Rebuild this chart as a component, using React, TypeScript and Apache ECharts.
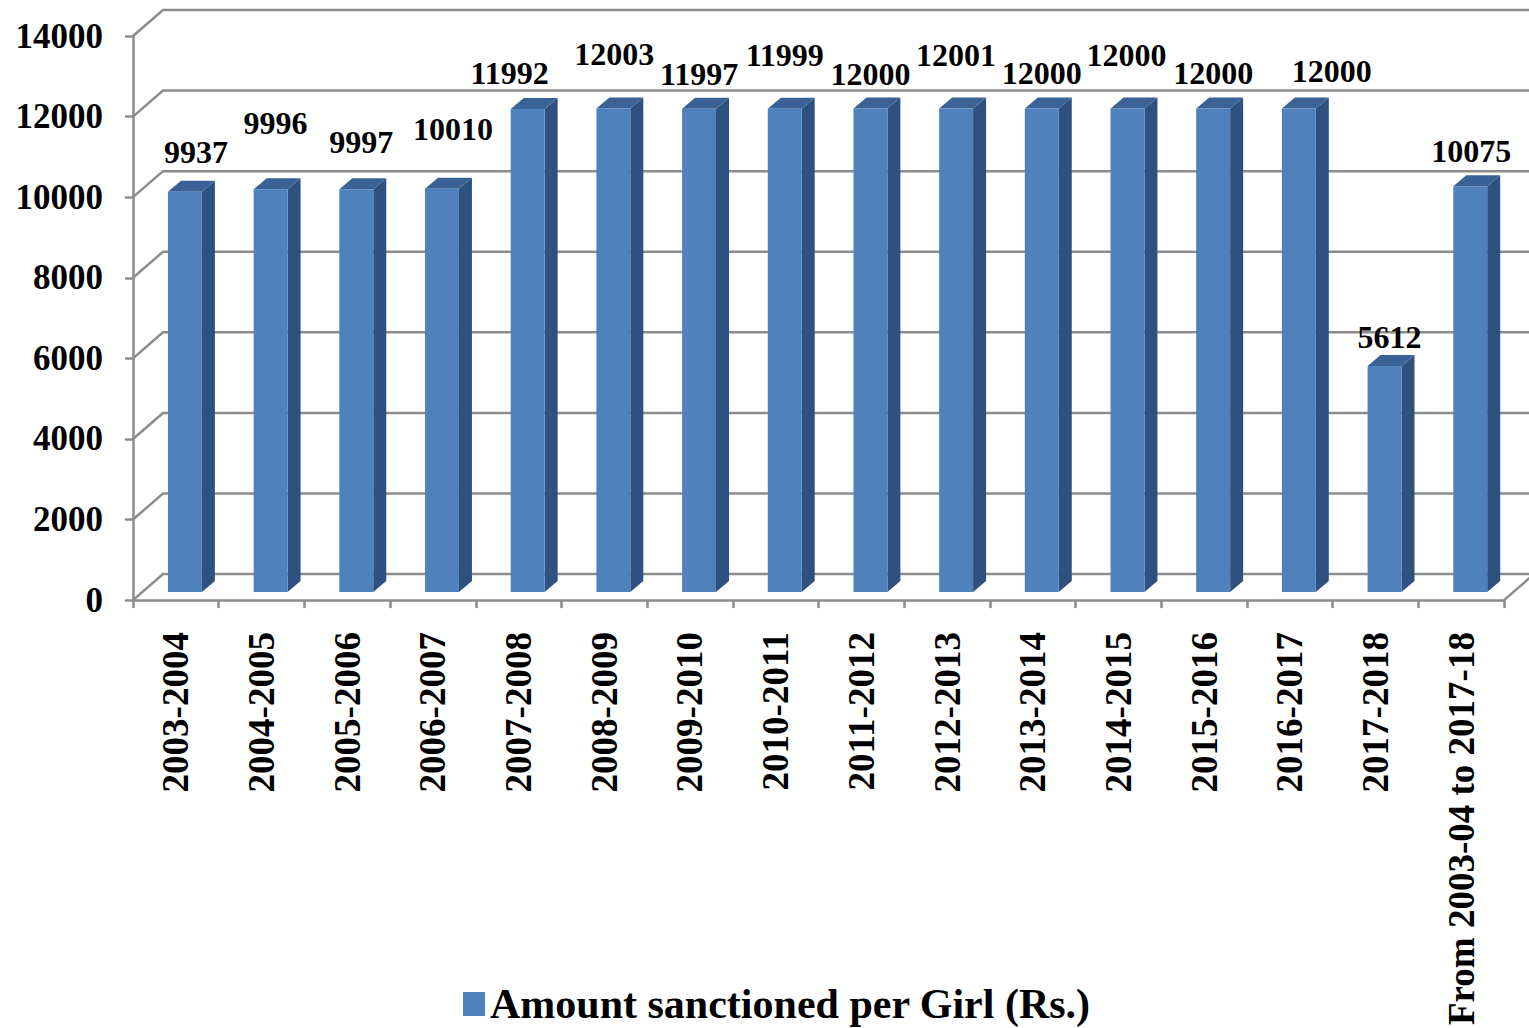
import React, { useEffect, useRef } from "react";
import * as echarts from "echarts";

const categories = [
  "2003-2004", "2004-2005", "2005-2006", "2006-2007", "2007-2008", "2008-2009",
  "2009-2010", "2010-2011", "2011-2012", "2012-2013", "2013-2014", "2014-2015",
  "2015-2016", "2016-2017", "2017-2018", "From 2003-04 to 2017-18",
];
const amounts = [
  9937, 9996, 9997, 10010, 11992, 12003, 11997, 11999, 12000, 12001, 12000, 12000,
  12000, 12000, 5612, 10075,
];
const yTicks = [0, 2000, 4000, 6000, 8000, 10000, 12000, 14000];
const seriesName = "Amount sanctioned per Girl (Rs.)";

// label nudges in px (styling only, relative to each bar's front-top centre)
const labelDx = [11, 5, 5, 11, -18, 1, 0, 0, 0, 0, 0, -1, 0, 33, 5, 1];
const labelDy = [-40, -66, -47, -60, -36, -54, -35, -54, -35, -54, -36, -54, -36, -38, -29, -35];

const FONT = '"Liberation Serif", "Times New Roman", serif';
const GRID_COLOR = "#8c8c8c";
const FRONT = "#4f81bd";
const SIDE = "#2f5180";
const TOP = "#3b6296";
const WALL_DX = 30;
const WALL_DY = -26;

export default function App() {
  const ref = useRef<HTMLDivElement>(null);
  useEffect(() => {
    if (!ref.current) return;
    const chart = echarts.init(ref.current, null, { renderer: "svg" });
    chart.setOption({
      animation: false,
      backgroundColor: "#ffffff",
      grid: { left: 133, right: 25, top: 36, bottom: 425, containLabel: false },
      legend: {
        data: [seriesName],
        left: 458,
        top: 978,
        itemWidth: 22,
        itemHeight: 24,
        icon: "rect",
        textStyle: { fontFamily: FONT, fontWeight: "bold", fontSize: 42, color: "#000" },
      },
      xAxis: {
        type: "category",
        data: categories,
        boundaryGap: true,
        axisLine: { show: true, lineStyle: { color: GRID_COLOR, width: 2.5 } },
        axisTick: { show: true, length: 8, lineStyle: { color: GRID_COLOR, width: 2.5 } },
        axisLabel: {
          rotate: 90,
          margin: 32,
          interval: 0,
          fontFamily: FONT,
          fontWeight: "bold",
          fontSize: 37,
          color: "#000",
        },
        splitLine: { show: false },
      },
      yAxis: {
        type: "value",
        min: 0,
        max: 14000,
        interval: 2000,
        axisLine: { show: true, lineStyle: { color: GRID_COLOR, width: 2.5 } },
        axisTick: { show: true, length: 8, lineStyle: { color: GRID_COLOR, width: 2.5 } },
        axisLabel: {
          margin: 30,
          fontFamily: FONT,
          fontWeight: "bold",
          fontSize: 35,
          color: "#000",
          formatter: (v: number) => String(v),
        },
        splitLine: { show: false },
      },
      series: [
        {
          type: "custom",
          name: "grid",
          silent: true,
          clip: false,
          z: 1,
          data: yTicks.map((v) => [0, v]),
          encode: { x: 0, y: 1 },
          renderItem: (params: any, api: any) => {
            const v = api.value(1);
            const cs = params.coordSys;
            const y = api.coord([0, v])[1];
            const W = api.getWidth();
            const children: any[] = [
              {
                type: "polyline",
                shape: {
                  points: [
                    [cs.x, y],
                    [cs.x + WALL_DX, y + WALL_DY],
                    [W + 10, y + WALL_DY],
                  ],
                },
                style: { stroke: GRID_COLOR, lineWidth: 2.5, fill: "none" },
              },
            ];
            if (v === 0) {
              children.push({
                type: "line",
                shape: {
                  x1: cs.x + cs.width,
                  y1: y,
                  x2: cs.x + cs.width + WALL_DX,
                  y2: y + WALL_DY,
                },
                style: { stroke: GRID_COLOR, lineWidth: 2.5 },
              });
            }
            return { type: "group", children };
          },
        },
        {
          type: "custom",
          name: seriesName,
          clip: false,
          z: 5,
          itemStyle: { color: FRONT },
          data: amounts.map((v, i) => [i, v]),
          encode: { x: 0, y: 1 },
          renderItem: (params: any, api: any) => {
            const i = api.value(0);
            const v = api.value(1);
            const cw = api.size([1, 0])[0];
            const base = api.coord([i, 0]);
            const top = api.coord([i, v]);
            const catLeft = base[0] - cw / 2;
            const fx0 = catLeft + cw * 0.408;
            const fw = cw * 0.396;
            const fy0 = base[1] - 8;
            const fy1 = top[1] - 8;
            const dx = 13;
            const dy = -11;
            return {
              type: "group",
              children: [
                {
                  type: "polygon",
                  shape: {
                    points: [
                      [fx0 + fw, fy0],
                      [fx0 + fw + dx, fy0 + dy],
                      [fx0 + fw + dx, fy1 + dy],
                      [fx0 + fw, fy1],
                    ],
                  },
                  style: { fill: SIDE },
                },
                {
                  type: "polygon",
                  shape: {
                    points: [
                      [fx0, fy1],
                      [fx0 + fw, fy1],
                      [fx0 + fw + dx, fy1 + dy],
                      [fx0 + dx, fy1 + dy],
                    ],
                  },
                  style: { fill: TOP },
                },
                {
                  type: "rect",
                  shape: { x: fx0, y: fy1, width: fw, height: fy0 - fy1 },
                  style: { fill: FRONT },
                },
                {
                  type: "text",
                  x: fx0 + fw / 2 + labelDx[i],
                  y: fy1 + labelDy[i],
                  style: {
                    text: String(v),
                    align: "center",
                    verticalAlign: "middle",
                    font: `bold 32px ${FONT}`,
                    fill: "#000",
                  },
                },
              ],
            };
          },
        },
      ],
    });
    return () => chart.dispose();
  }, []);
  return (
    <div
      ref={ref}
      style={{ position: "fixed", left: 0, top: 0, width: 1529, height: 1028, background: "#fff" }}
    />
  );
}
